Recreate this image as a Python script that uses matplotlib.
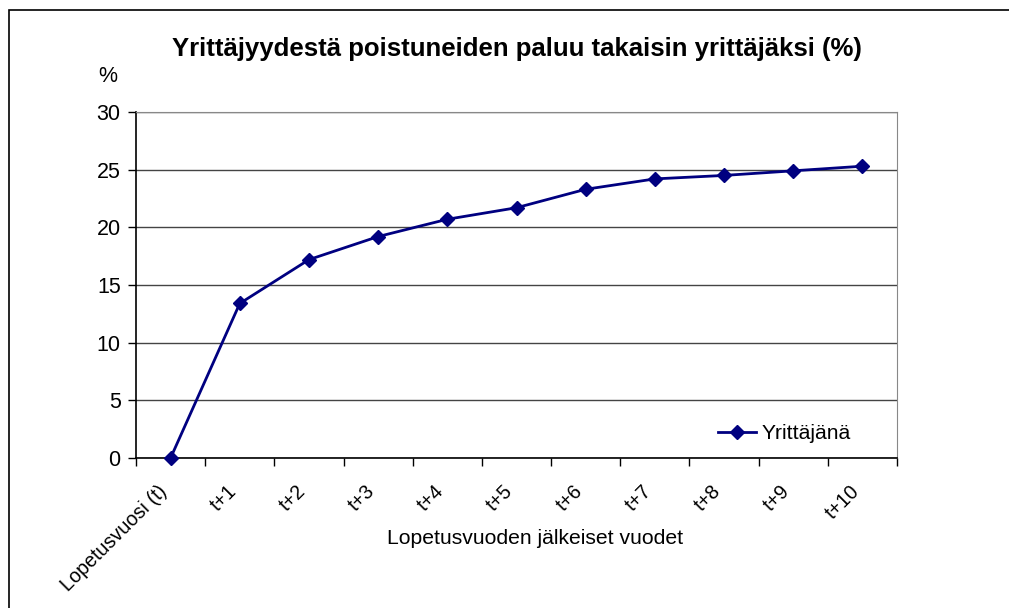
import matplotlib.pyplot as plt
from matplotlib.patches import Rectangle
from matplotlib.transforms import ScaledTranslation

plt.rcParams['font.family'] = ['Liberation Sans', 'DejaVu Sans']

vuodet = ['Lopetusvuosi (t)', 't+1', 't+2', 't+3', 't+4', 't+5',
          't+6', 't+7', 't+8', 't+9', 't+10']
yrittajana = [0, 13.4, 17.2, 19.2, 20.7, 21.7, 23.3, 24.2, 24.5, 24.9, 25.3]

fig = plt.figure(figsize=(10.09, 6.08), dpi=100)
ax = fig.add_axes([136/1009, 1 - 458/608, (897-136)/1009, (458-112)/608])

# Kehys koko kuvan ympärille
fig.patches.append(Rectangle((9/1009, -0.1), 1.1, 1.1 - 10/608, transform=fig.transFigure,
                             fill=False, edgecolor='black', linewidth=1.2, clip_on=False))

plt.plot(range(len(vuodet)), yrittajana, color='#000080', linewidth=2,
         marker='D', markersize=7, label='Yrittäjänä', clip_on=False, zorder=3)

plt.xlim(-0.5, 10.5)
plt.ylim(0, 30)
plt.yticks(range(0, 31, 5), fontsize=15.5)
plt.grid(axis='y', color='#444444', linewidth=1)
ax.set_axisbelow(True)

# Ticks luokkien väliin kuten Excelissä
ax.set_xticks([i - 0.5 for i in range(12)])
ax.set_xticklabels([])
ax.tick_params(axis='x', which='major', length=6, direction='out', width=1)
ax.set_xticks(range(len(vuodet)), minor=True)
ax.set_xticklabels(vuodet, minor=True, rotation=45, ha='right', rotation_mode='anchor', fontsize=14.2)
ax.tick_params(axis='x', which='minor', length=0, pad=14)
for label in ax.get_xticklabels(minor=True):
    label.set_transform(label.get_transform() + ScaledTranslation(-0.13, -0.04, fig.dpi_scale_trans))
ax.tick_params(axis='y', length=6, direction='out', width=1, pad=5)

for s in ['top', 'right']:
    ax.spines[s].set_color('#888888')
ax.spines['left'].set_linewidth(1.2)
ax.spines['bottom'].set_linewidth(1.2)

plt.title("Yrittäjyydestä poistuneiden paluu takaisin yrittäjäksi (%)",
          fontsize=18.5, fontweight='bold', pad=40)
plt.xlabel("Lopetusvuoden jälkeiset vuodet", fontsize=15.2)
ax.xaxis.set_label_coords(0.524, -0.205)
ax.text(-0.037, 1.104, '%', transform=ax.transAxes, fontsize=15.5, ha='center', va='center')
plt.legend(loc='center right', frameon=False, fontsize=15.2, handlelength=1.8,
           handletextpad=0.3, borderpad=0, borderaxespad=0, bbox_to_anchor=(0.94, 0.07))

plt.savefig('out.png', dpi=100)
